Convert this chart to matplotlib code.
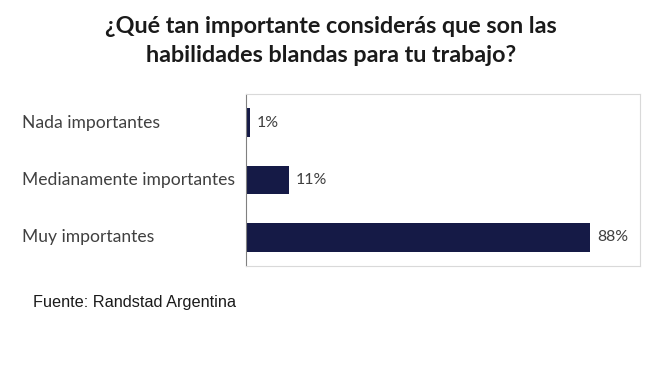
import matplotlib.pyplot as plt
from matplotlib import transforms

# Data
categories = ["Nada importantes", "Medianamente importantes", "Muy importantes"]
values = [1, 11, 88]
value_labels = ["1%", "11%", "88%"]

bar_color = "#151a46"
text_color = "#404040"

fig = plt.figure(figsize=(6.5, 3.89), dpi=100)
ax = fig.add_axes([246 / 650, 1 - 266 / 389, 394 / 650, 172 / 389])

y = list(range(len(categories)))
ax.barh(y, values, height=0.5, color=bar_color)
ax.set_xlim(0, 100.7)
ax.set_ylim(2.5, -0.5)

for v, yy, lab in zip(values, y, value_labels):
    ax.text(v + 1.7, yy, lab, va="center", ha="left", fontsize=11.4,
            color=text_color, family="Lato")

# category labels, left aligned at fixed figure x
trans = transforms.blended_transform_factory(fig.transFigure, ax.transData)
for yy, cat in zip(y, categories):
    ax.text(22 / 650, yy, cat, transform=trans, va="center", ha="left",
            fontsize=12.6, color=text_color, family="Lato")

ax.set_xticks([])
ax.set_yticks([])
for side in ["top", "right", "bottom"]:
    ax.spines[side].set_color("#d9d9d9")
    ax.spines[side].set_linewidth(0.8)
ax.spines["left"].set_color("#808080")
ax.spines["left"].set_linewidth(0.8)

fig.text(331 / 650, 1 - 41 / 389,
         "¿Qué tan importante considerás que son las\nhabilidades blandas para tu trabajo?",
         ha="center", va="center", fontsize=16.8, fontweight="bold",
         color="#1a1a1a", family="Lato", linespacing=1.48)

fig.text(33 / 650, 1 - 303 / 389, "Fuente: Randstad Argentina", ha="left",
         va="center", fontsize=11.7, color="#1a1a1a", family="Liberation Sans")

fig.savefig("out.png", dpi=100)
